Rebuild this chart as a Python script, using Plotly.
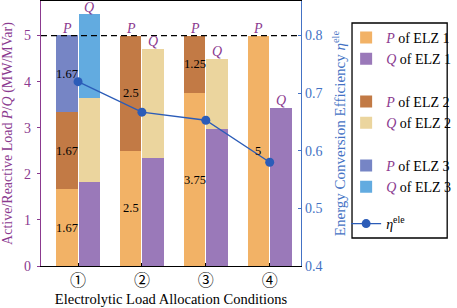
import plotly.graph_objects as go
import numpy as np

conditions = ["①", "②", "③", "④"]
p_elz1 = [1.67, 2.5, 3.75, 5.0]
p_elz2 = [1.67, 2.5, 1.25, 0.0]
p_elz3 = [1.67, 0.0, 0.0, 0.0]
q_elz1 = [1.82, 2.35, 2.98, 3.43]
q_elz2 = [1.82, 2.36, 1.52, 0.0]
q_elz3 = [1.82, 0.0, 0.0, 0.0]
eta_ele = [0.72, 0.667, 0.653, 0.58]
p_limit = 5

FONT = "Liberation Serif, Times New Roman, serif"
PURPLE = "#8B3A8F"
BLUE = "#4472C4"
c_p1, c_q1 = "#F2B266", "#9A79B9"
c_p2, c_q2 = "#C27A45", "#EBD59E"
c_p3, c_q3 = "#7685C5", "#62ABE0"

xg = np.arange(1, len(conditions) + 1)
off = 0.177
bw = 0.34
xp = xg - off
xq = xg + off


def name(sym, k):
    return f"<i><span style='color:{PURPLE}'>{sym}</span></i> of ELZ {k}"


fig = go.Figure()
series = [
    (xp, p_elz1, c_p1, name("P", 1), "legend"),
    (xq, q_elz1, c_q1, name("Q", 1), "legend"),
    (xp, p_elz2, c_p2, name("P", 2), "legend2"),
    (xq, q_elz2, c_q2, name("Q", 2), "legend2"),
    (xp, p_elz3, c_p3, name("P", 3), "legend3"),
    (xq, q_elz3, c_q3, name("Q", 3), "legend3"),
]
for x, y, c, nm, lg in series:
    fig.add_trace(go.Bar(
        x=x, y=y, width=bw, name=nm, marker=dict(color=c, line=dict(width=0)),
        legend=lg, hoverinfo="skip",
    ))

fig.add_trace(go.Scatter(
    x=xg, y=eta_ele, yaxis="y2", mode="lines+markers",
    name="<i>η</i><sup>ele</sup>",
    line=dict(color="#2B5CB8", width=1.3),
    marker=dict(color="#2B5CB8", size=9),
    legend="legend4",
))

# value labels in the middle of each P segment
p_stack = [p_elz1, p_elz2, p_elz3]
base = np.zeros(len(conditions))
for seg in p_stack:
    seg = np.array(seg)
    for i in range(len(conditions)):
        if seg[i] > 0:
            fig.add_annotation(x=xp[i], y=base[i] + seg[i] / 2, text=f"{seg[i]:g}",
                               showarrow=False,
                               font=dict(family=FONT, size=12.5, color="black"))
    base = base + seg

p_tot = np.array(p_elz1) + np.array(p_elz2) + np.array(p_elz3)
q_tot = np.array(q_elz1) + np.array(q_elz2) + np.array(q_elz3)
for i in range(len(conditions)):
    for x, y, t in ((xp[i], p_tot[i], "P"), (xq[i], q_tot[i], "Q")):
        fig.add_annotation(x=x, y=y, text=f"<i>{t}</i>", showarrow=False,
                           yanchor="bottom", yshift=-2.5,
                           font=dict(family=FONT, size=14, color=PURPLE))

fig.add_shape(type="line", xref="paper", x0=0, x1=1, yref="y", y0=p_limit, y1=p_limit,
              line=dict(color="black", width=1.3, dash="6px,4px"), layer="above")


def px_x(p):
    return (p - 41) / 265


def px_y(p):
    return 1 - (p - 1) / 265


# legend frame
fig.add_shape(type="rect", xref="paper", yref="paper",
              x0=px_x(358), x1=px_x(455), y0=px_y(238), y1=px_y(23),
              line=dict(color="black", width=1.3), fillcolor="rgba(0,0,0,0)")

leg_common = dict(xanchor="left", yanchor="top", bgcolor="rgba(0,0,0,0)", borderwidth=0,
                  font=dict(family=FONT, size=14, color="black"), itemwidth=30,
                  traceorder="normal")
leg_x = px_x(352)

fig.update_layout(
    width=457, height=308,
    margin=dict(l=41, r=151, t=1, b=42),
    paper_bgcolor="white", plot_bgcolor="white",
    barmode="stack", bargap=0,
    font=dict(family=FONT, size=14, color="black"),
    showlegend=True,
    legend=dict(x=leg_x, y=px_y(22), **leg_common),
    legend2=dict(x=leg_x, y=px_y(86), **leg_common),
    legend3=dict(x=leg_x, y=px_y(150), **leg_common),
    legend4=dict(x=leg_x, y=px_y(208), **leg_common),
    xaxis=dict(range=[0.42, 4.49], tickmode="array", tickvals=xg, ticktext=conditions,
               showline=True, linecolor="black", linewidth=1.2, mirror=True,
               ticks="inside", ticklen=3, tickcolor="black", showgrid=False, zeroline=False,
               tickfont=dict(family="Noto Sans CJK JP, DejaVu Sans, sans-serif", size=16, color="black"),
               title=dict(text="Electrolytic Load Allocation Conditions",
                          font=dict(family=FONT, size=14.5, color="black"), standoff=3)),
    yaxis=dict(range=[0, 5.75], tickvals=[0, 1, 2, 3, 4, 5],
               showline=True, linecolor=PURPLE, linewidth=1.2,
               ticks="outside", ticklen=3, tickcolor=PURPLE, showgrid=False, zeroline=False,
               ticklabelstandoff=3,
               tickfont=dict(family=FONT, size=14, color=PURPLE),
               title=dict(text="Active/Reactive Load <i>P</i>/<i>Q</i> (MW/MVar)",
                          font=dict(family=FONT, size=14, color=PURPLE), standoff=10)),
    yaxis2=dict(range=[0.4, 0.86], tickvals=[0.4, 0.5, 0.6, 0.7, 0.8], overlaying="y", side="right",
                showline=True, linecolor=BLUE, linewidth=1.2,
                ticks="inside", ticklen=3, tickcolor=BLUE, showgrid=False, zeroline=False,
                tickfont=dict(family=FONT, size=14, color=BLUE),
                title=dict(text="Energy Conversion Efficiency <i>η</i><sup>ele</sup>",
                           font=dict(family=FONT, size=15, color=BLUE), standoff=13)),
)

fig.write_html("out.html", config={"displayModeBar": False},
               post_script="document.body.style.margin='0';")
